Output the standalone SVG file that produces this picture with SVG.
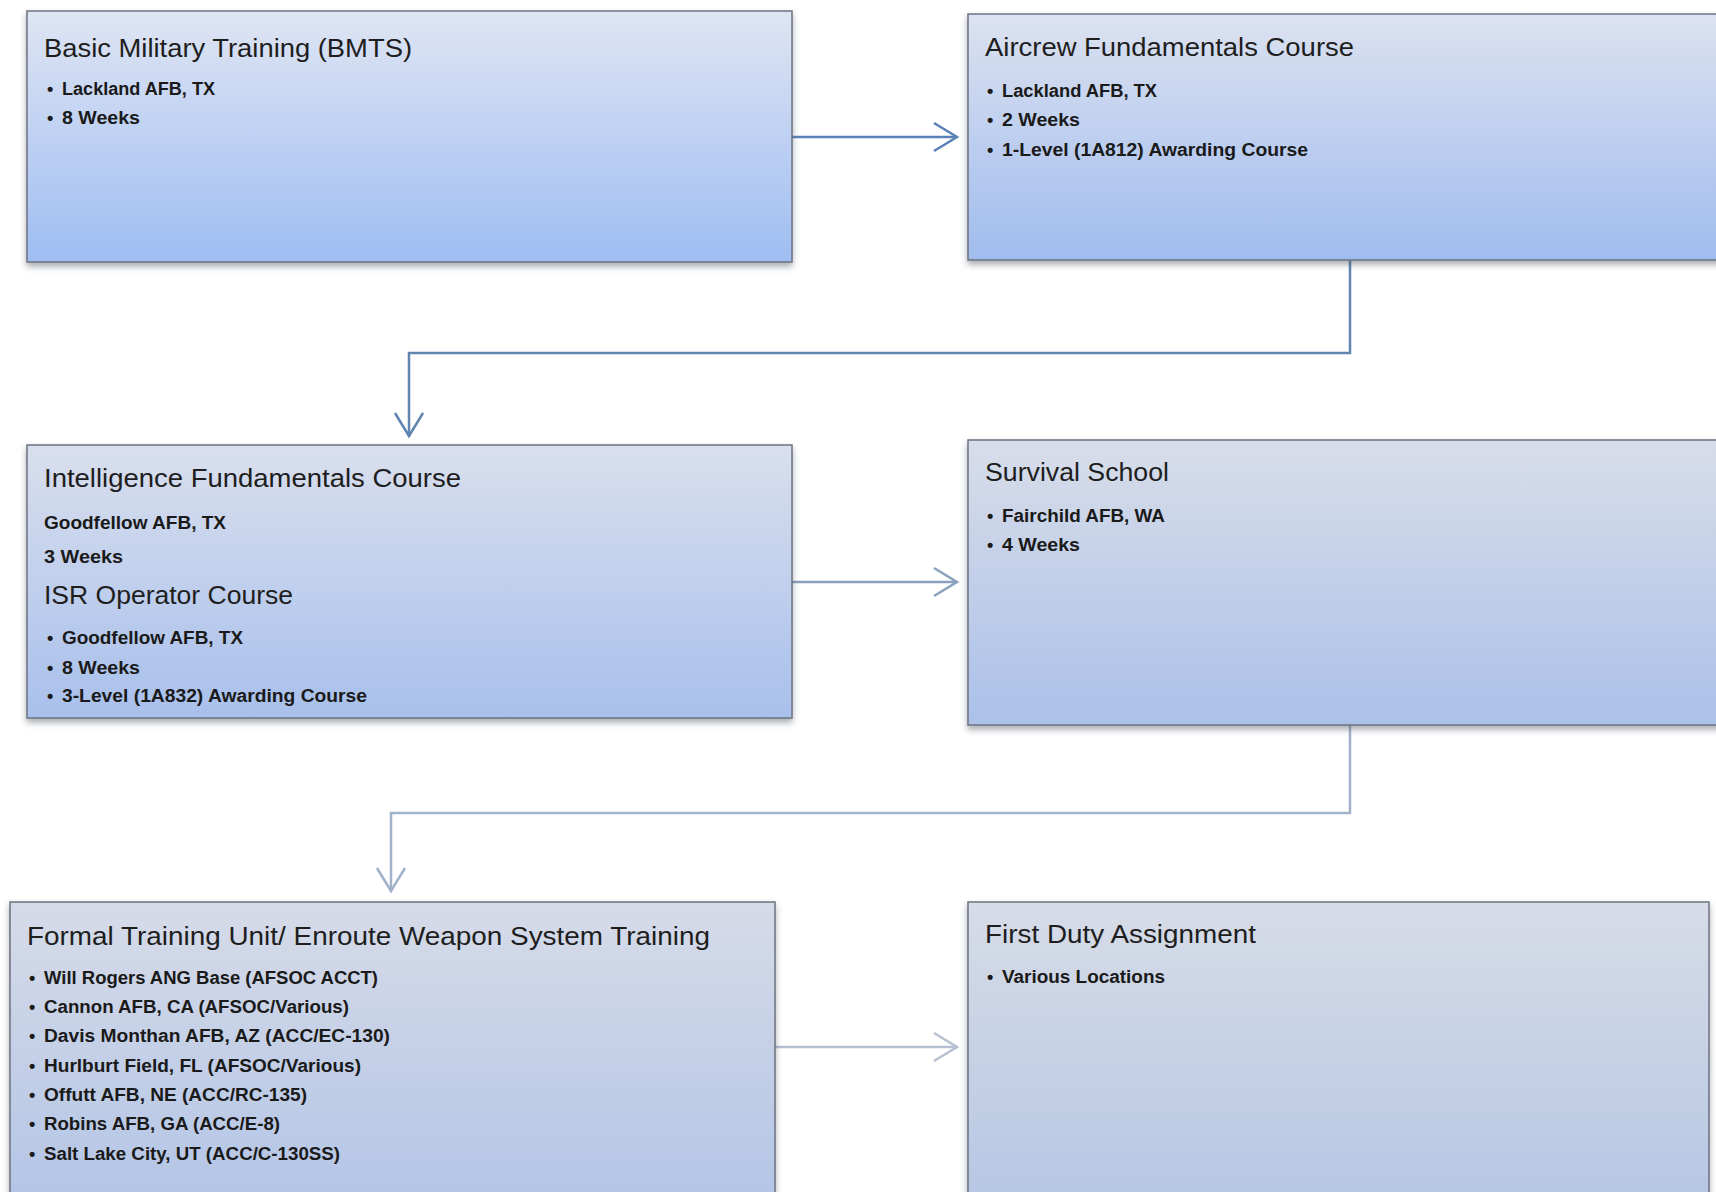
<svg xmlns="http://www.w3.org/2000/svg" width="1716" height="1192" viewBox="0 0 1716 1192">
<style>
.box{stroke:#6d7380;stroke-width:1.5;filter:url(#sh)}
.t{font-family:"Liberation Sans",Arial,sans-serif;font-size:25px;fill:#1e1e1e}
.b{font-family:"Liberation Sans",Arial,sans-serif;font-size:18px;font-weight:bold;fill:#1a1a1a}
.c{fill:none;stroke-width:2.5}
</style>
<defs>
<filter id="sh" x="-5%" y="-5%" width="110%" height="115%">
<feDropShadow dx="0" dy="4" stdDeviation="3" flood-color="#404858" flood-opacity="0.45"/>
</filter>
<linearGradient id="g1" x1="0" y1="0" x2="0" y2="1"><stop offset="0" stop-color="#dfe5f3"/><stop offset="1" stop-color="#9ebdf2"/></linearGradient>
<linearGradient id="g2" x1="0" y1="0" x2="0" y2="1"><stop offset="0" stop-color="#dce2f0"/><stop offset="1" stop-color="#a0bcee"/></linearGradient>
<linearGradient id="g3" x1="0" y1="0" x2="0" y2="1"><stop offset="0" stop-color="#d9dfed"/><stop offset="1" stop-color="#a8c0ec"/></linearGradient>
<linearGradient id="g4" x1="0" y1="0" x2="0" y2="1"><stop offset="0" stop-color="#d8dde9"/><stop offset="1" stop-color="#abc1e9"/></linearGradient>
<linearGradient id="g5" x1="0" y1="0" x2="0" y2="1"><stop offset="0" stop-color="#d6dbe8"/><stop offset="1" stop-color="#b3c5e6"/></linearGradient>
<linearGradient id="g6" x1="0" y1="0" x2="0" y2="1"><stop offset="0" stop-color="#d7dce7"/><stop offset="1" stop-color="#b6c7e4"/></linearGradient>
<marker id="m1" markerUnits="userSpaceOnUse" viewBox="0 0 30 32" markerWidth="30" markerHeight="32" refX="26" refY="16" orient="auto"><path d="M3,2 L26,16 L3,30" fill="none" stroke="#5a82b6" stroke-width="2.5"/></marker>
<marker id="m2" markerUnits="userSpaceOnUse" viewBox="0 0 30 32" markerWidth="30" markerHeight="32" refX="26" refY="16" orient="auto"><path d="M3,2 L26,16 L3,30" fill="none" stroke="#6185b0" stroke-width="2.5"/></marker>
<marker id="m3" markerUnits="userSpaceOnUse" viewBox="0 0 30 32" markerWidth="30" markerHeight="32" refX="26" refY="16" orient="auto"><path d="M3,2 L26,16 L3,30" fill="none" stroke="#8aa1be" stroke-width="2.5"/></marker>
<marker id="m4" markerUnits="userSpaceOnUse" viewBox="0 0 30 32" markerWidth="30" markerHeight="32" refX="26" refY="16" orient="auto"><path d="M3,2 L26,16 L3,30" fill="none" stroke="#a3b2cb" stroke-width="2.5"/></marker>
<marker id="m5" markerUnits="userSpaceOnUse" viewBox="0 0 30 32" markerWidth="30" markerHeight="32" refX="26" refY="16" orient="auto"><path d="M3,2 L26,16 L3,30" fill="none" stroke="#b6c0d0" stroke-width="2.5"/></marker>
</defs>
<rect width="1716" height="1192" fill="#ffffff"/>

<g id="connectors">
<path class="c" d="M792,137 H957" stroke="#5a82b6" marker-end="url(#m1)"/>
<path class="c" d="M1350,260 V353 H409 V436" stroke="#6185b0" marker-end="url(#m2)"/>
<path class="c" d="M792,582 H957" stroke="#8aa1be" marker-end="url(#m3)"/>
<path class="c" d="M1350,725 V813 H391 V891" stroke="#a3b2cb" marker-end="url(#m4)"/>
<path class="c" d="M775,1047 H957" stroke="#b6c0d0" marker-end="url(#m5)"/>
</g>

<g id="node-bmts">
<rect class="box" x="27" y="11" width="765" height="251" fill="url(#g1)"/>
<text class="t" x="44" y="57" textLength="368" lengthAdjust="spacingAndGlyphs">Basic Military Training (BMTS)</text>
<text class="b" x="47" y="95">•</text><text class="b" x="62" y="95" textLength="153" lengthAdjust="spacingAndGlyphs">Lackland AFB, TX</text>
<text class="b" x="47" y="124">•</text><text class="b" x="62" y="124" textLength="78" lengthAdjust="spacingAndGlyphs">8 Weeks</text>
</g>

<g id="node-aircrew">
<rect class="box" x="968" y="14" width="760" height="246" fill="url(#g2)"/>
<text class="t" x="985" y="56" textLength="369" lengthAdjust="spacingAndGlyphs">Aircrew Fundamentals Course</text>
<text class="b" x="987" y="97">•</text><text class="b" x="1002" y="97" textLength="155" lengthAdjust="spacingAndGlyphs">Lackland AFB, TX</text>
<text class="b" x="987" y="126">•</text><text class="b" x="1002" y="126" textLength="78" lengthAdjust="spacingAndGlyphs">2 Weeks</text>
<text class="b" x="987" y="156">•</text><text class="b" x="1002" y="156" textLength="306" lengthAdjust="spacingAndGlyphs">1-Level (1A812) Awarding Course</text>
</g>

<g id="node-intel">
<rect class="box" x="27" y="445" width="765" height="273" fill="url(#g3)"/>
<text class="t" x="44" y="487" textLength="417" lengthAdjust="spacingAndGlyphs">Intelligence Fundamentals Course</text>
<text class="b" x="44" y="529" textLength="182" lengthAdjust="spacingAndGlyphs">Goodfellow AFB, TX</text>
<text class="b" x="44" y="563" textLength="79" lengthAdjust="spacingAndGlyphs">3 Weeks</text>
<text class="t" x="44" y="604" textLength="249" lengthAdjust="spacingAndGlyphs">ISR Operator Course</text>
<text class="b" x="47" y="644">•</text><text class="b" x="62" y="644" textLength="181" lengthAdjust="spacingAndGlyphs">Goodfellow AFB, TX</text>
<text class="b" x="47" y="674">•</text><text class="b" x="62" y="674" textLength="78" lengthAdjust="spacingAndGlyphs">8 Weeks</text>
<text class="b" x="47" y="702">•</text><text class="b" x="62" y="702" textLength="305" lengthAdjust="spacingAndGlyphs">3-Level (1A832) Awarding Course</text>
</g>

<g id="node-survival">
<rect class="box" x="968" y="440" width="760" height="285" fill="url(#g4)"/>
<text class="t" x="985" y="481" textLength="184" lengthAdjust="spacingAndGlyphs">Survival School</text>
<text class="b" x="987" y="522">•</text><text class="b" x="1002" y="522" textLength="163" lengthAdjust="spacingAndGlyphs">Fairchild AFB, WA</text>
<text class="b" x="987" y="551">•</text><text class="b" x="1002" y="551" textLength="78" lengthAdjust="spacingAndGlyphs">4 Weeks</text>
</g>

<g id="node-ftu">
<rect class="box" x="10" y="902" width="765" height="300" fill="url(#g5)"/>
<text class="t" x="27" y="945" textLength="683" lengthAdjust="spacingAndGlyphs">Formal Training Unit/ Enroute Weapon System Training</text>
<text class="b" x="29" y="984">•</text><text class="b" x="44" y="984" textLength="334" lengthAdjust="spacingAndGlyphs">Will Rogers ANG Base (AFSOC ACCT)</text>
<text class="b" x="29" y="1013">•</text><text class="b" x="44" y="1013" textLength="305" lengthAdjust="spacingAndGlyphs">Cannon AFB, CA (AFSOC/Various)</text>
<text class="b" x="29" y="1042">•</text><text class="b" x="44" y="1042" textLength="346" lengthAdjust="spacingAndGlyphs">Davis Monthan AFB, AZ (ACC/EC-130)</text>
<text class="b" x="29" y="1072">•</text><text class="b" x="44" y="1072" textLength="317" lengthAdjust="spacingAndGlyphs">Hurlburt Field, FL (AFSOC/Various)</text>
<text class="b" x="29" y="1101">•</text><text class="b" x="44" y="1101" textLength="263" lengthAdjust="spacingAndGlyphs">Offutt AFB, NE (ACC/RC-135)</text>
<text class="b" x="29" y="1130">•</text><text class="b" x="44" y="1130" textLength="236" lengthAdjust="spacingAndGlyphs">Robins AFB, GA (ACC/E-8)</text>
<text class="b" x="29" y="1160">•</text><text class="b" x="44" y="1160" textLength="296" lengthAdjust="spacingAndGlyphs">Salt Lake City, UT (ACC/C-130SS)</text>
</g>

<g id="node-duty">
<rect class="box" x="968" y="902" width="741" height="300" fill="url(#g6)"/>
<text class="t" x="985" y="943" textLength="271" lengthAdjust="spacingAndGlyphs">First Duty Assignment</text>
<text class="b" x="987" y="983">•</text><text class="b" x="1002" y="983" textLength="163" lengthAdjust="spacingAndGlyphs">Various Locations</text>
</g>
</svg>
